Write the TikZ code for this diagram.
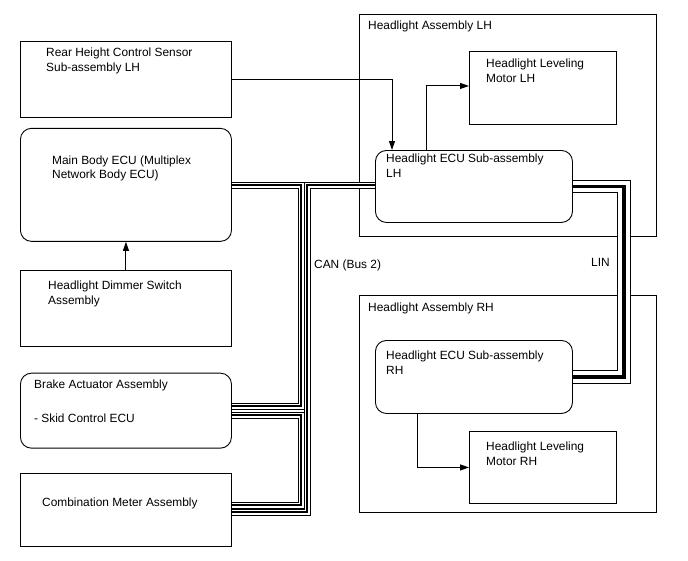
\documentclass[tikz,border=0pt]{standalone}
\usepackage{fontspec}
\setmainfont{Liberation Sans}
\usetikzlibrary{positioning, arrows.meta}

\begin{document}
\begin{tikzpicture}[x=1pt, y=-1pt,
  % ---- Style definitions ----
  box/.style={
    draw, line width=0.9pt, anchor=north west, inner sep=0pt,
    minimum width=211pt
  },
  ecu/.style={box, rounded corners=11pt},
  asm/.style={box, minimum width=297pt},
  txt/.style={
    font=\fontsize{11.9}{14.7}\selectfont, align=left,
    inner sep=0pt, anchor=north west
  },
  arr/.style={-{Triangle[length=9pt, width=6pt]}, line width=1pt},
  canbus/.style={
    line width=2.4pt,
    preaction={draw, line width=7pt},
    preaction={draw, white, line width=5pt}
  },
  linbus/.style={
    line width=3.5pt,
    preaction={draw, line width=13.5pt},
    preaction={draw, white, line width=11.5pt}
  },
]
\useasboundingbox (0,0) rectangle (688,560);

% ---- Left column ----
\node[box, minimum height=76pt] (rear) at (20,41) {};
\node[ecu, minimum height=113pt, below=10pt of rear] (main) {};
\node[box, minimum height=76pt, below=28pt of main] (dimmer) {};
\node[ecu, minimum height=75pt, below=26pt of dimmer] (brake) {};
\node[box, minimum height=73pt, below=24pt of brake] (meter) {};

\node[txt, below right=6.7pt and 26pt of rear.north west] (rearT)
  {Rear Height Control Sensor\\Sub-assembly LH};
\node[txt, below right=27.5pt and 32pt of main.north west] (mainT)
  {Main Body ECU (Multiplex\\Network Body ECU)};
\node[txt, below right=10.7pt and 28pt of dimmer.north west] (dimmerT)
  {Headlight Dimmer Switch\\Assembly};
\node[txt, below right=6.7pt and 14pt of brake.north west] (brakeT)
  {Brake Actuator Assembly\\[19.3pt]- Skid Control ECU};
\node[txt, below right=24.7pt and 22pt of meter.north west] (meterT)
  {Combination Meter Assembly};

% ---- Headlight assemblies ----
\node[asm, minimum height=222pt] (lhAsm) at (359,14) {};
\node[box, minimum width=147pt, minimum height=73pt] (motorLH) at (469,51) {};
\node[ecu, minimum width=197pt, minimum height=72pt] (ecuLH) at (375,150) {};

\node[asm, minimum height=217pt] (rhAsm) at (359,295) {};
\node[ecu, minimum width=197pt, minimum height=73pt] (ecuRH) at (375,340) {};
\node[box, minimum width=147pt, minimum height=72pt] (motorRH) at (469,431) {};

\node[txt, below right=6.7pt and 9pt of lhAsm.north west] (lhAsmT)
  {Headlight Assembly LH};
\node[txt, below right=7.7pt and 17pt of motorLH.north west] (motorLHT)
  {Headlight Leveling\\Motor LH};
\node[txt, below right=3.7pt and 11pt of ecuLH.north west] (ecuLHT)
  {Headlight ECU Sub-assembly\\LH};
\node[txt, below right=7.7pt and 9pt of rhAsm.north west] (rhAsmT)
  {Headlight Assembly RH};
\node[txt, below right=10.7pt and 11pt of ecuRH.north west] (ecuRHT)
  {Headlight ECU Sub-assembly\\RH};
\node[txt, below right=10.7pt and 17pt of motorRH.north west] (motorRHT)
  {Headlight Leveling\\Motor RH};

% ---- Signal arrows ----
\draw[arr] (dimmer) -- (main);
\draw[arr] (rear.east) -| ([xshift=17pt]ecuLH.north west);
\draw[arr] ([xshift=51pt]ecuLH.north west) |- ([yshift=2pt]motorLH.west);
\draw[arr] ([xshift=42pt]ecuRH.south west) |- (motorRH.west);

% ---- CAN bus ----
\coordinate (canL) at (301,185);
\coordinate (canR) at (307,185);
\draw[canbus] (main.east |- canL) -- (canL) |- ([yshift=4.5pt]brake.east)
  ([yshift=-4.5pt]brake.east) -| ([yshift=4.5pt]canL |- meter.east)
    -- ([yshift=4.5pt]meter.east)
  (ecuLH.west |- canR) -- (canR) |- ([yshift=-2.5pt]meter.east);

% ---- LIN bus ----
\draw[linbus] (ecuLH.east) -- ++(51,0) |- (ecuRH.east);

\node[txt, anchor=west] (canLbl) at (314,265) {CAN (Bus 2)};
\node[txt, anchor=west] (linLbl) at (591,262) {LIN};

\end{tikzpicture}
\end{document}
